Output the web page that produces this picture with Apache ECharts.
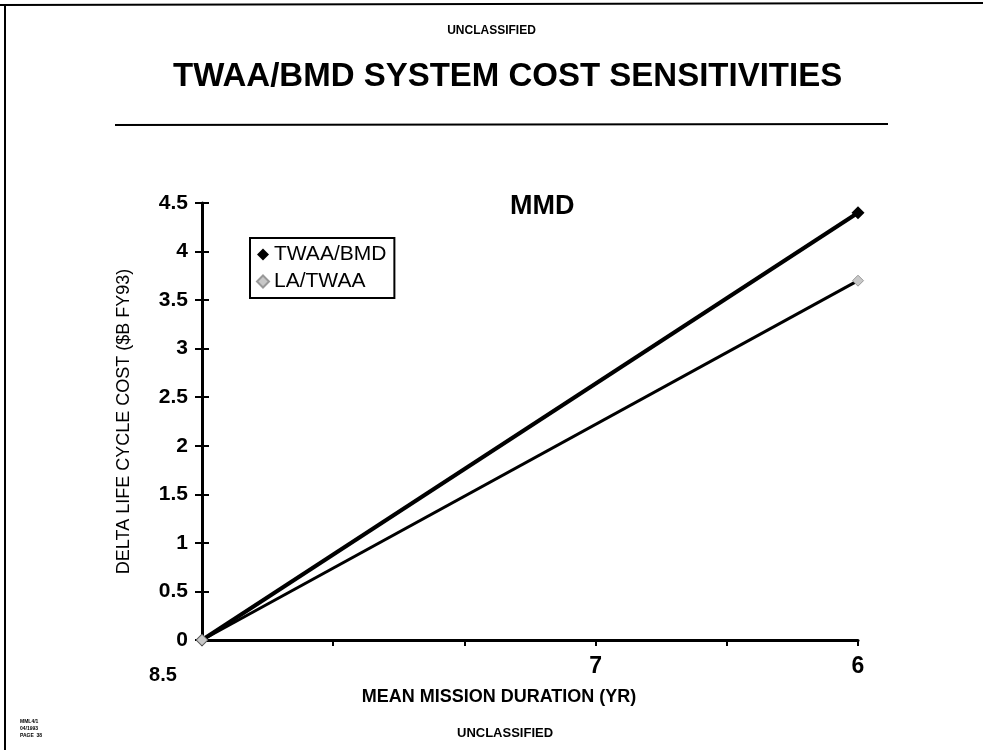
<!DOCTYPE html>
<html>
<head>
<meta charset="utf-8">
<script src="https://cdn.jsdelivr.net/npm/echarts@6/dist/echarts.min.js"></script>
<style>
  html, body { margin: 0; padding: 0; background: #fff; }
  #chart { width: 983px; height: 750px; }
</style>
</head>
<body>
<div id="chart"></div>
<script>
// mean mission duration (yr), axis runs 8.5 -> 6
var durations = [8.5, 6];
var twaaBmd = [0, 4.4];
var laTwaa = [0, 3.7];
var xLabels = [8.5, 7, 6];

var font = 'Liberation Sans, Arial, sans-serif';
var chart = echarts.init(document.getElementById('chart'));

function pairs(ys) {
    return durations.map(function (d, i) { return [d, ys[i]]; });
}

var option = {
    backgroundColor: '#fff',
    animation: false,
    textStyle: { fontFamily: font, color: '#000' },
    title: [
        {
            text: 'UNCLASSIFIED', left: 'center', top: 20,
            textStyle: { fontSize: 12, fontWeight: 'bold', fontFamily: font, color: '#000' }
        },
        {
            text: 'TWAA/BMD SYSTEM COST SENSITIVITIES', left: 168, top: 55,
            textStyle: { fontSize: 33, fontWeight: 'bold', fontFamily: font, color: '#000' }
        },
        {
            text: 'MMD', left: 505, top: 188,
            textStyle: { fontSize: 27, fontWeight: 'bold', fontFamily: font, color: '#000' }
        },
        {
            text: 'UNCLASSIFIED', left: 452, top: 722,
            textStyle: { fontSize: 13, fontWeight: 'bold', fontFamily: font, color: '#000' }
        }
    ],
    legend: {
        left: 250, top: 238, orient: 'vertical',
        itemWidth: 12, itemHeight: 12, itemGap: 6,
        padding: [6, 8, 6, 6],
        borderColor: '#000', borderWidth: 2,
        textStyle: { fontSize: 21, fontFamily: font, color: '#000' },
        data: [
            { name: 'TWAA/BMD', icon: 'diamond', itemStyle: { color: '#000' } },
            { name: 'LA/TWAA', icon: 'diamond', itemStyle: { color: '#c8c8c8' } }
        ]
    },
    grid: { left: 202, right: 125, top: 203, bottom: 110 },
    xAxis: {
        type: 'value', inverse: true, min: 6, max: 8.5, interval: 0.5,
        name: 'MEAN MISSION DURATION (YR)', nameLocation: 'middle', nameGap: 48,
        nameMoveOverlap: false,
        nameTextStyle: { fontSize: 18, fontWeight: 'bold', fontFamily: font, padding: [0, 62, 0, 0] },
        axisLine: { lineStyle: { color: '#000', width: 3 } },
        axisTick: { length: 6, lineStyle: { color: '#000', width: 2 } },
        splitLine: { show: false },
        axisLabel: {
            fontSize: 23, fontWeight: 'bold', margin: 15, color: '#000',
            formatter: function (v) {
                if (xLabels.indexOf(v) < 0) return '';
                if (v === 8.5) return '{o|8.5}';
                return String(v);
            },
            rich: {
                o: { fontSize: 20, fontWeight: 'bold', padding: [10, 78, 0, 0] }
            }
        }
    },
    yAxis: [
        {
            type: 'value', min: 0, max: 4.5, interval: 0.5,
            name: 'DELTA LIFE CYCLE COST ($B FY93)', nameLocation: 'middle', nameGap: 69,
            nameMoveOverlap: false,
            nameTextStyle: { fontSize: 18, fontFamily: font },
            axisLine: { show: true, lineStyle: { color: '#000', width: 3 } },
            axisTick: { show: true, length: 7, lineStyle: { color: '#000', width: 2 } },
            splitLine: { show: false },
            axisLabel: { fontSize: 21, fontWeight: 'bold', margin: 14, color: '#000' }
        },
        {
            // second copy only draws the tick halves that cross into the plot
            type: 'value', min: 0, max: 4.5, interval: 0.5, position: 'left', offset: -7,
            axisLine: { show: false },
            axisTick: { show: true, length: 7, lineStyle: { color: '#000', width: 2 } },
            axisLabel: { show: false },
            splitLine: { show: false }
        }
    ],
    series: [
        {
            name: 'TWAA/BMD', type: 'line', data: pairs(twaaBmd),
            symbol: 'diamond', symbolSize: 13,
            lineStyle: { color: '#000', width: 4 },
            itemStyle: { color: '#000' }
        },
        {
            name: 'LA/TWAA', type: 'line', data: pairs(laTwaa),
            symbol: 'diamond', symbolSize: 11,
            lineStyle: { color: '#000', width: 3 },
            itemStyle: { color: '#c8c8c8', borderColor: '#999', borderWidth: 1 }
        }
    ],
    graphic: [
        { type: 'line', shape: { x1: 0, y1: 5, x2: 983, y2: 3 }, style: { stroke: '#000', lineWidth: 2 } },
        { type: 'line', shape: { x1: 5, y1: 5, x2: 5, y2: 750 }, style: { stroke: '#000', lineWidth: 2 } },
        { type: 'line', shape: { x1: 115, y1: 125, x2: 888, y2: 124 }, style: { stroke: '#000', lineWidth: 2 } },
        {
            type: 'text', left: 20, top: 718,
            style: { text: 'MML4/1\n04/1993\nPAGE  38', font: 'bold 5px ' + font, fill: '#000', lineHeight: 7 }
        }
    ]
};

chart.setOption(option);
</script>
</body>
</html>
